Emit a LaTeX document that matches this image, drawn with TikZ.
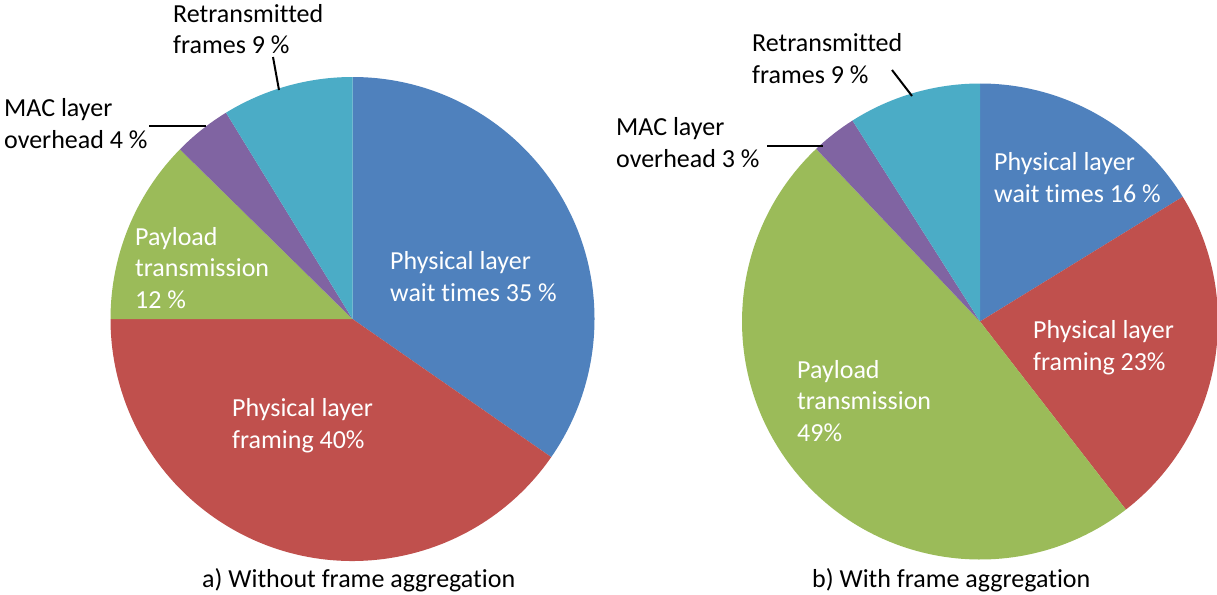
\documentclass[tikz,border=0pt]{standalone}
\usepackage{fontspec}
\setmainfont{Carlito}[Ligatures={NoCommon}]
\definecolor{cblue}{HTML}{4F81BD}
\definecolor{cred}{HTML}{C0504D}
\definecolor{cgreen}{HTML}{9BBB59}
\definecolor{cpurple}{HTML}{8064A2}
\definecolor{cteal}{HTML}{4BACC6}
\begin{document}
\begin{tikzpicture}[x=1pt,y=1pt,
  lbl/.style={font=\fontsize{26}{31.5}\selectfont, inner sep=0pt, align=left, anchor=base west},
  inlbl/.style={lbl, text=white},
  leader/.style={line width=2pt, black}]
\useasboundingbox[fill=white] (0,0) rectangle (1217,-594);
% ---- pie a ----
\coordinate (ca) at (352.5,-319);
\def\ra{242}
\fill[cblue]   (ca) -- ++(90:\ra)     arc[start angle=90,     end angle=-34.8,  radius=\ra] -- cycle;
\fill[cred]    (ca) -- ++(-34.8:\ra)  arc[start angle=-34.8,  end angle=-180,   radius=\ra] -- cycle;
\fill[cgreen]  (ca) -- ++(-180:\ra)   arc[start angle=-180,   end angle=-224.5, radius=\ra] -- cycle;
\fill[cpurple] (ca) -- ++(-224.5:\ra) arc[start angle=-224.5, end angle=-238.5, radius=\ra] -- cycle;
\fill[cteal]   (ca) -- ++(-238.5:\ra) arc[start angle=-238.5, end angle=-270,   radius=\ra] -- cycle;
% ---- pie b ----
\coordinate (cb) at (980,-321.5);
\def\rb{238}
\fill[cblue]   (cb) -- ++(90:\rb)     arc[start angle=90,     end angle=31.6,   radius=\rb] -- cycle;
\fill[cred]    (cb) -- ++(31.6:\rb)   arc[start angle=31.6,   end angle=-52.2,  radius=\rb] -- cycle;
\fill[cgreen]  (cb) -- ++(-52.2:\rb)  arc[start angle=-52.2,  end angle=-226.5, radius=\rb] -- cycle;
\fill[cpurple] (cb) -- ++(-226.5:\rb) arc[start angle=-226.5, end angle=-237.6, radius=\rb] -- cycle;
\fill[cteal]   (cb) -- ++(-237.6:\rb) arc[start angle=-237.6, end angle=-270,   radius=\rb] -- cycle;
% ---- labels a (anchored at the baseline of the last line) ----
\node[lbl] (aret) at (173,-54) {Retransmitted\\frames 9 \%};
\node[lbl] (amac) at (4,-148) {MAC layer\\overhead 4 \%};
\node[inlbl] (apay) at (135,-308) {Payload\\transmission\\12 \%};
\node[inlbl] (ablue) at (390,-301) {Physical layer\\wait times 35 \%};
\node[inlbl] (ared) at (232,-448) {Physical layer\\framing 40\%};
\node[lbl] (acap) at (202,-587) {a) Without frame aggregation};
\coordinate (aretA) at (273,-57);
\coordinate (aretB) at (279,-90);
\coordinate (amacA) at (149,-126);
\coordinate (amacB) at (206,-126);
\draw[leader] (aretA) -- (aretB);
\draw[leader] (amacA) -- (amacB);
% ---- labels b ----
\node[lbl] (bret) at (752,-83) {Retransmitted\\frames 9 \%};
\node[lbl] (bmac) at (616,-167) {MAC layer\\overhead 3 \%};
\node[inlbl] (bblue) at (994,-202) {Physical layer\\wait times 16 \%};
\node[inlbl] (bred) at (1033,-370) {Physical layer\\framing 23\%};
\node[inlbl] (bpay) at (797,-441) {Payload\\transmission\\49\%};
\node[lbl] (bcap) at (812,-587) {b) With frame aggregation};
\coordinate (bretA) at (892,-70);
\coordinate (bretB) at (912,-96);
\coordinate (bmacA) at (767,-146);
\coordinate (bmacB) at (823,-146);
\draw[leader] (bretA) -- (bretB);
\draw[leader] (bmacA) -- (bmacB);
\end{tikzpicture}
\end{document}
